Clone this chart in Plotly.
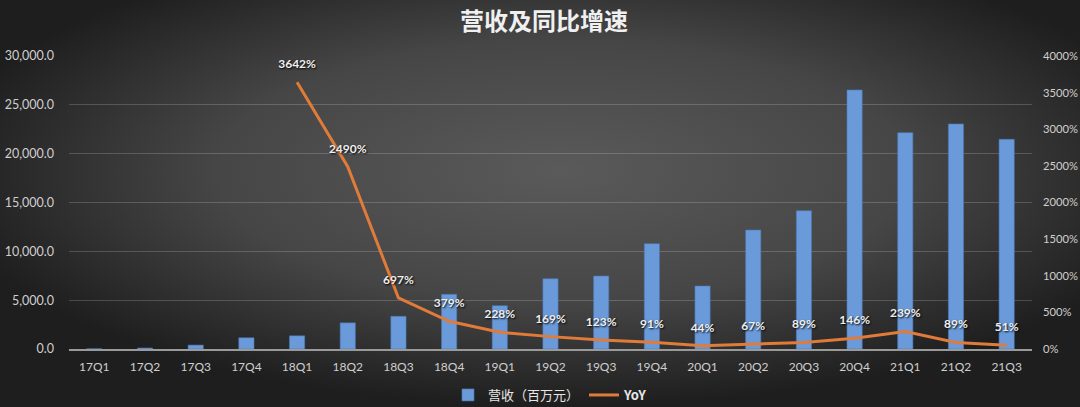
import base64

import plotly.graph_objects as go
from plotly.subplots import make_subplots

quarters = ["17Q1", "17Q2", "17Q3", "17Q4", "18Q1", "18Q2", "18Q3", "18Q4",
            "19Q1", "19Q2", "19Q3", "19Q4", "20Q1", "20Q2", "20Q3", "20Q4",
            "21Q1", "21Q2", "21Q3"]
revenue = [20, 100, 400, 1150, 1350, 2680, 3350, 5600,
           4430, 7200, 7470, 10780, 6450, 12180, 14160, 26520,
           22150, 23040, 21470]
yoy = [None, None, None, None, 3642, 2490, 697, 379,
       228, 169, 123, 91, 44, 67, 89, 146,
       239, 89, 51]
yoy_labels = ["" if v is None else f"{v}%" for v in yoy]

W, H = 1080, 407
L, R, T, B = 69, 48, 56, 58
pw, ph = W - L - R, H - T - B

# dark radial background like the Excel chart style
svg = (
    '<svg xmlns="http://www.w3.org/2000/svg" width="1080" height="407" '
    'preserveAspectRatio="none" viewBox="0 0 1080 407">'
    '<defs><radialGradient id="g" cx="52%" cy="42%" r="58%">'
    '<stop offset="0%" stop-color="#5a5a5a"/>'
    '<stop offset="55%" stop-color="#464646"/>'
    '<stop offset="100%" stop-color="#1e1e1e"/>'
    '</radialGradient></defs>'
    '<rect width="1080" height="407" fill="url(#g)"/></svg>'
)
bg_src = "data:image/svg+xml;base64," + base64.b64encode(svg.encode()).decode()

fig = make_subplots(specs=[[{"secondary_y": True}]])

fig.add_trace(
    go.Bar(x=quarters, y=revenue, name="营收（百万元）",
           marker=dict(color="#6a9ad9", line=dict(color="#4a78b8", width=0.6))),
    secondary_y=False,
)

# transparent markers only push the data labels up a bit, like Excel
fig.add_trace(
    go.Scatter(x=quarters, y=yoy, name="<b>YoY</b>", mode="lines+markers+text",
               line=dict(color="#e07b39", width=3),
               marker=dict(size=16, color="rgba(0,0,0,0)", line=dict(width=0)),
               text=yoy_labels, textposition="top center",
               textfont=dict(color="#efefef", size=12, family="Lato", weight="bold",
                             shadow="1px 1px 2px #000")),
    secondary_y=True,
)

fig.update_layout(
    width=W, height=H,
    margin=dict(l=L, r=R, t=T, b=B, autoexpand=False),
    paper_bgcolor="#2e2e2e",
    plot_bgcolor="rgba(0,0,0,0)",
    bargap=0.70,
    title=dict(text="<b>营收及同比增速</b>", x=544 / W, xanchor="center",
               y=1 - 22 / H, yanchor="middle",
               font=dict(family="Noto Sans CJK SC", size=24, color="#f0f0f0")),
    font=dict(family="Lato", color="#cfcfcf", size=12),
    legend=dict(orientation="h", x=0.5, xanchor="center", y=-46 / ph, yanchor="middle",
                bgcolor="rgba(0,0,0,0)",
                font=dict(size=13, color="#e6e6e6", family="Noto Sans CJK SC")),
    showlegend=True,
    images=[dict(source=bg_src, xref="paper", yref="paper",
                 x=-L / pw, y=1 + T / ph, sizex=W / pw, sizey=H / ph,
                 xanchor="left", yanchor="top", sizing="stretch", layer="below")],
)

fig.update_xaxes(domain=[0, 1], range=[-0.5, len(quarters) - 0.5],
                 showgrid=False, showline=True, linecolor="#9a9a9a", linewidth=1.5,
                 ticks="", ticklabelstandoff=6, automargin=False,
                 tickfont=dict(size=12, color="#cfcfcf"))

fig.update_yaxes(range=[0, 30000], dtick=5000, tickformat=",.1f",
                 showgrid=True, gridcolor="rgba(255,255,255,0.18)", gridwidth=1,
                 zeroline=False, ticklabelstandoff=14, automargin=False,
                 tickfont=dict(size=12.5, color="#cfcfcf"), secondary_y=False)
fig.update_yaxes(range=[0, 4000], dtick=500, ticksuffix="%",
                 showgrid=False, zeroline=False, ticklabelstandoff=10, automargin=False,
                 tickfont=dict(size=11.2, color="#cfcfcf"), secondary_y=True)

fig.write_html("out.html", config={"displayModeBar": False},
               post_script="document.body.style.margin='0';")
